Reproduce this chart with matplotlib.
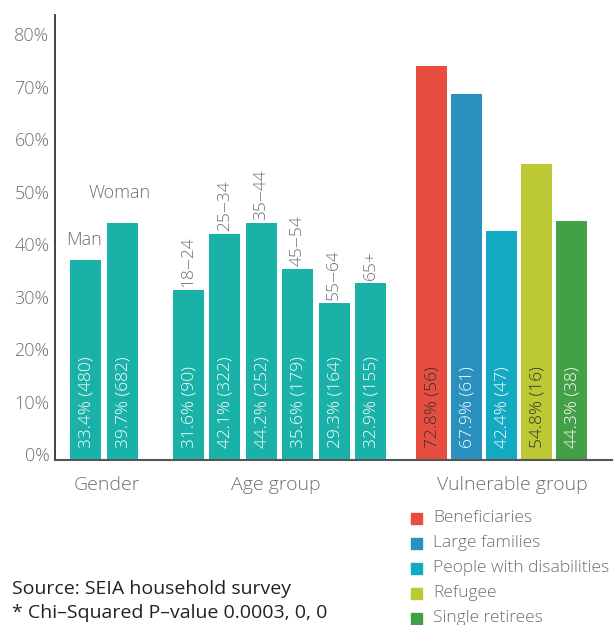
import matplotlib
matplotlib.use("Agg")
import matplotlib.pyplot as plt
from matplotlib.transforms import ScaledTranslation
from matplotlib.patches import Rectangle

plt.rcParams['font.family'] = ['Open Sans', 'DejaVu Sans']
plt.rcParams['font.weight'] = 'light'

# ---- data ----
gender_cats = ["Man", "Woman"]
gender_vals = [38.1, 45.2]
gender_labels = ["33.4% (480)", "39.7% (682)"]

age_cats = ["18\u201224", "25\u201234", "35\u201244", "45\u201254", "55\u201264", "65+"]
age_vals = [32.4, 43.1, 45.2, 36.4, 29.9, 33.7]
age_labels = ["31.6% (90)", "42.1% (322)", "44.2% (252)", "35.6% (179)", "29.3% (164)", "32.9% (155)"]

vuln_cats = ["Beneficiaries", "Large families", "People with disabilities", "Refugee", "Single retirees"]
vuln_vals = [75.0, 69.8, 43.7, 56.4, 45.6]
vuln_labels = ["72.8% (56)", "67.9% (61)", "42.4% (47)", "54.8% (16)", "44.3% (38)"]
vuln_colors = ["#E84E3F", "#2A91BF", "#12A9C2", "#BCC834", "#43A047"]
vuln_text_colors = ["#333333", "white", "white", "#333333", "white"]

group_names = ["Gender", "Age group", "Vulnerable group"]
yticks = [0, 10, 20, 30, 40, 50, 60, 70, 80]
ytick_labels = ["0%", "10%", "20%", "30%", "40%", "50%", "60%", "70%", "80%"]

teal = "#1AB2A8"
grey = "#6f6f6f"

# ---- layout ----
W, H = 615, 625
fig = plt.figure(figsize=(W / 100, H / 100), dpi=100)
ax_l, ax_r, ax_t, ax_b = 55, 612, 15, 460
ax = fig.add_axes([ax_l / W, (H - ax_b) / H, (ax_r - ax_l) / W, (ax_b - ax_t) / H])
ax.set_xlim(0, ax_r - ax_l)
ax.set_ylim(0, 84.8)

bw = 31
g_start, g_pitch = 30.5, 37.0
a_start, a_pitch = 133.5, 36.4
v_start, v_pitch = 376.5, 35.0

gx = [g_start + i * g_pitch for i in range(len(gender_vals))]
axx = [a_start + i * a_pitch for i in range(len(age_vals))]
vx = [v_start + i * v_pitch for i in range(len(vuln_vals))]

ax.bar(gx, gender_vals, width=bw, color=teal)
ax.bar(axx, age_vals, width=bw, color=teal)
ax.bar(vx, vuln_vals, width=bw, color=vuln_colors)

lab_fs = 12.5
def inner(xs, vals, labels, colors):
    for x, v, lab, c in zip(xs, vals, labels, colors):
        ax.annotate(lab, (x, 0), xytext=(1, 12), textcoords='offset pixels',
                    rotation=90, ha='center', va='bottom', color=c, fontsize=lab_fs)

inner(gx, gender_vals, gender_labels, ["white"] * 2)
inner(axx, age_vals, age_labels, ["white"] * 6)
inner(vx, vuln_vals, vuln_labels, vuln_text_colors)

# gender category labels
g_offsets = [(-2, 11), (-3, 21)]
for x, v, c, off in zip(gx, gender_vals, gender_cats, g_offsets):
    ax.annotate(c, (x, v), xytext=off, textcoords='offset pixels',
                ha='center', va='bottom', color=grey, fontsize=13)

# age category labels (rotated)
for x, v, c in zip(axx, age_vals, age_cats):
    ax.annotate(c, (x, v), xytext=(0, 3), textcoords='offset pixels',
                rotation=90, ha='center', va='bottom', color=grey, fontsize=12.5)

# axes styling
for s in ["top", "right"]:
    ax.spines[s].set_visible(False)
ax.spines["left"].set_color("#333333")
ax.spines["bottom"].set_color("#555555")
ax.spines["left"].set_linewidth(1.3)
ax.spines["bottom"].set_linewidth(1.5)
ax.set_xticks([])
ax.set_yticks(yticks)
ax.set_yticklabels(ytick_labels, color=grey, fontsize=13)
ax.tick_params(axis='y', length=0, pad=4)
for t in ax.get_yticklabels():
    t.set_transform(t.get_transform() + ScaledTranslation(0, 6 / 100, fig.dpi_scale_trans))

# group labels below axis
group_centers = [sum(gx) / len(gx) + 3, sum(axx) / len(axx) - 3.5, sum(vx) / len(vx) + 10.5]
for x, name in zip(group_centers, group_names):
    ax.annotate(name, (x, 0), xytext=(0, -25), textcoords='offset pixels',
                ha='center', va='center', color=grey, fontsize=14, annotation_clip=False)

# legend
leg_x, leg_y0, leg_dy = 411, 518, 25
for i, (c, name) in enumerate(zip(vuln_colors, vuln_cats)):
    y = leg_y0 + i * leg_dy
    fig.patches.append(Rectangle((leg_x / W, (H - y - 5.5) / H), 11 / W, 11 / H,
                                 transform=fig.transFigure, color=c))
    fig.text((leg_x + 22) / W, (H - y) / H, name, ha='left', va='center',
             color=grey, fontsize=12.5)

fig.text(12 / W, (H - 589) / H, "Source: SEIA household survey", ha='left', va='center',
         color="#222222", fontsize=14, fontweight='normal')
fig.text(12 / W, (H - 613) / H, "* Chi\u2013Squared P\u2013value 0.0003, 0, 0", ha='left', va='center',
         color="#222222", fontsize=14, fontweight='normal')

fig.savefig("out.png", dpi=100)
